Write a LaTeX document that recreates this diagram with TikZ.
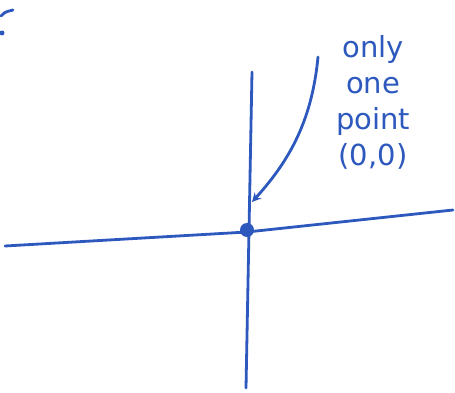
\documentclass[tikz,border=0pt]{standalone}
\usepackage{fontspec}
\setmainfont{DejaVu Sans}
\usetikzlibrary{arrows.meta}
\definecolor{pen}{RGB}{45,88,190}
\tikzset{
  stroke/.style={draw=pen, line width=2.8pt, line cap=round, line join=round},
  note/.style={text=pen, font=\fontsize{29}{36}\selectfont, align=center, inner sep=0pt},
  origin/.style={circle, fill=pen, inner sep=0pt, minimum size=14pt}
}
\begin{document}
\begin{tikzpicture}[x=1pt, y=-1pt]
\useasboundingbox (0,0) rectangle (455,393);
% axis end points
\coordinate (xl) at (5,246);
\coordinate (xr) at (453,210);
\coordinate (yt) at (252,72);
\coordinate (yb) at (246,388);
\draw[stroke] (xl) -- (247,232) -- (xr);
\draw[stroke] (yt) -- (yb);
\node[origin] (o) at (247,230) {};
% label
\node[note] (lbl) at (373,102) {only\\one\\point\\(0,0)};
\coordinate (as) at (318,57);
\coordinate (ae) at (252,202);
\draw[stroke, -{Stealth[length=9pt,width=9pt]}] (as) .. controls (312,120) and (290,160) .. (ae);
% fragment top-left
\coordinate (f1) at (1,16);
\coordinate (f2) at (13,10);
\draw[stroke] (f1) .. controls (5,12) .. (f2);
\fill[pen] (2,33) circle (2.5pt);
\end{tikzpicture}
\end{document}
